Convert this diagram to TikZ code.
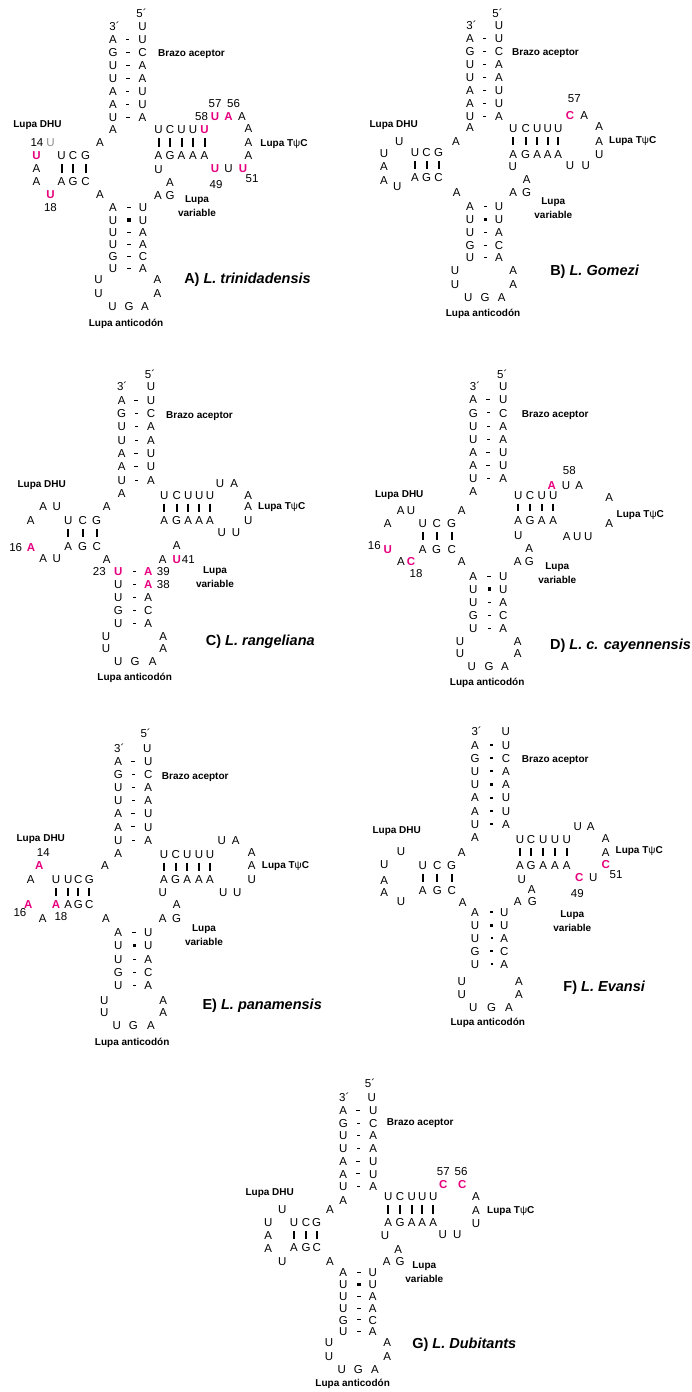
\documentclass[tikz,border=0pt]{standalone}
\usepackage{fontspec}
\setmainfont{Liberation Sans}
\usepackage{tikz}
\definecolor{hilite}{RGB}{230,0,126}

\begin{document}
\begin{tikzpicture}[x=1pt, y=-1pt,
	nt/.style={inner sep=0pt, text height=8.2pt, text depth=0pt, font=\fontsize{11.5}{13}\selectfont},
	hl/.style={nt, text=hilite, font=\fontsize{11.5}{13}\selectfont\bfseries},
	gr/.style={nt, text=black!45},
	lbl/.style={inner sep=0pt, align=center, font=\fontsize{10}{14}\selectfont\bfseries},
	ttl/.style={inner sep=0pt, font=\fontsize{14.5}{17}\selectfont\bfseries},
	pdash/.style={fill, inner sep=0pt, minimum width=3.6pt, minimum height=0.9pt},
	bdash/.style={fill, inner sep=0pt, minimum width=2.8pt, minimum height=2.2pt},
	wobble/.style={fill, inner sep=0pt, minimum size=3.2pt},
	pairbar/.style={line width=2pt, shorten >=4.4pt, shorten <=4.4pt}]

	\useasboundingbox (0,0) rectangle (692,1392);

	%%%%% A) L. trinidadensis
	\begin{scope}[shift={(113,26.7)}]
	%acceptor arm
	\node[nt] (A5) at (28.5,-13) {5´};
	\node[nt] (A3) at (1.5,0) {3´};
	\node[nt] (Ar0) at (29.5,0) {U};
	\foreach \p/\q [count=\k] in {A/U,G/C,U/A,U/A,A/U,A/U,U/A}{
		\node[nt] (Al\k) at (0,12.95*\k) {\p};
		\node[nt] (Ar\k) at (29.5,12.95*\k) {\q};
		\path (Al\k) -- node[pdash] (Ap\k) {} (Ar\k);
	}
	\node[nt] (Al8) at (0,103) {A};
	\node[lbl, anchor=west] (Aacc) at (45,27) {Brazo aceptor};

	%DHU arm
	\node[lbl] (Adhu) at (-75.5,98.5) {Lupa DHU};
	\node[nt] (A14) at (-76,116) {14};
	\node[gr] (Ad1) at (-62.5,116) {U};
	\node[hl] (Ad2) at (-76.5,129) {U};
	\node[nt] (Ad3) at (-76.5,142) {A};
	\node[nt] (Ad4) at (-76.5,154.5) {A};
	\node[hl] (Ad5) at (-62.5,167.5) {U};
	\node[nt] (A18) at (-62.5,180.5) {18};
	\foreach \p/\q/\x [count=\k] in {U/A/-51.5,C/G/-40,G/C/-27.5}{
		\node[nt] (Adt\k) at (\x,129) {\p};
		\node[nt] (Adb\k) at (\x,154.5) {\q};
		\draw[pairbar] (Adt\k) -- (Adb\k);
	}
	\node[nt] (Aj1) at (-13,116) {A};
	\node[nt] (Aj2) at (-13,167.5) {A};

	%anticodon arm
	\foreach \p/\q/\s [count=\k] in {A/U/pdash,U/U/wobble,U/A/pdash,U/A/pdash,G/C/pdash,U/A/pdash}{
		\node[nt] (Acl\k) at (0,168.8+12.2*\k) {\p};
		\node[nt] (Acr\k) at (30,168.8+12.2*\k) {\q};
		\path (Acl\k) -- node[\s, pos=0.55] (Acp\k) {} (Acr\k);
	}
	\node[nt] (Aal1) at (-14.5,252.5) {U};
	\node[nt] (Aal2) at (-14.5,266.5) {U};
	\node[nt] (Aab1) at (-0.5,279.5) {U};
	\node[nt] (Aab2) at (16,279.5) {G};
	\node[nt] (Aab3) at (32,279.5) {A};
	\node[nt] (Aar1) at (44.5,252.5) {A};
	\node[nt] (Aar2) at (44.5,266.5) {A};
	\node[lbl] (Aanti) at (13,297) {Lupa anticodón};

	%variable loop
	\node[nt] (Av1) at (45.5,142.5) {U};
	\node[nt] (Av2) at (57,155.5) {A};
	\node[nt] (Av3) at (45,168.5) {A};
	\node[nt] (Av4) at (57,168.5) {G};
	\node[lbl] (Avar) at (84,179) {Lupa\\variable};

	%TpsiC arm
	\foreach \p/\q/\x [count=\k] in {U/A/45.5,C/G/57,U/A/68.5,U/A/80}{
		\node[nt] (Att\k) at (\x,103) {\p};
		\node[nt] (Atb\k) at (\x,129) {\q};
		\draw[pairbar] (Att\k) -- (Atb\k);
	}
	\node[hl] (Att5) at (91.5,103) {U};
	\node[nt] (Atb5) at (91.5,129) {A};
	\draw[pairbar] (Att5) -- (Atb5);
	\node[nt] (A58) at (88.5,90) {58};
	\node[hl] (Atl1) at (102,90) {U};
	\node[hl] (Atl2) at (115.5,90) {A};
	\node[nt] (Atl3) at (129,90) {A};
	\node[nt] (A57) at (102,77) {57};
	\node[nt] (A56) at (120.5,77) {56};
	\node[nt] (Atl4) at (135.5,101.5) {A};
	\node[nt] (Atl5) at (135.5,116) {A};
	\node[nt] (Atl6) at (135.5,129) {A};
	\node[hl] (Atl7) at (130,142) {U};
	\node[nt] (Atl8) at (115.5,142) {U};
	\node[hl] (Atl9) at (102,142) {U};
	\node[nt] (A51) at (139,152) {51};
	\node[nt] (A49) at (103,157.5) {49};
	\node[lbl] (Atpc) at (171,117) {Lupa T{\mdseries ψ}C};

	\node[ttl] (Attl) at (134.5,253.5) {A) \textit{L. trinidadensis}};
	\end{scope}

	%%%%% B) L. Gomezi
	\begin{scope}[shift={(470,25.7)}]
	%acceptor arm
	\node[nt] (B5) at (27.5,-12.5) {5´};
	\node[nt] (B3) at (1.5,0) {3´};
	\node[nt] (Br0) at (29,0) {U};
	\foreach \p/\q [count=\k] in {A/U,G/C,U/A,U/A,A/U,A/U,U/A}{
		\node[nt] (Bl\k) at (0,12.9*\k) {\p};
		\node[nt] (Br\k) at (29,12.9*\k) {\q};
		\path (Bl\k) -- node[pdash] (Bp\k) {} (Br\k);
	}
	\node[nt] (Bl8) at (0,102) {A};
	\node[lbl, anchor=west] (Bacc) at (42,27.5) {Brazo aceptor};

	%DHU arm
	\node[lbl] (Bdhu) at (-76.3,99.3) {Lupa DHU};
	\node[nt] (Bd1) at (-70.7,115.3) {U};
	\node[nt] (Bd2) at (-86,127.6) {U};
	\node[nt] (Bd3) at (-86,141) {A};
	\node[nt] (Bd4) at (-86,155) {A};
	\node[nt] (Bd5) at (-72.7,160.3) {U};
	\foreach \p/\q/\x [count=\k] in {U/A/-55,C/G/-43.5,G/C/-31.5}{
		\node[nt] (Bdt\k) at (\x,126.6) {\p};
		\node[nt] (Bdb\k) at (\x,151.6) {\q};
		\draw[pairbar] (Bdt\k) -- (Bdb\k);
	}
	\node[nt] (Bj1) at (-14,115.3) {A};
	\node[nt] (Bj2) at (-13.3,167) {A};

	%anticodon arm
	\foreach \p/\q/\s [count=\k] in {A/U/pdash,U/U/wobble,U/A/pdash,G/C/pdash,U/A/pdash}{
		\node[nt] (Bcl\k) at (0,168.25+12.75*\k) {\p};
		\node[nt] (Bcr\k) at (29,168.25+12.75*\k) {\q};
		\path (Bcl\k) -- node[\s, pos=0.55] (Bcp\k) {} (Bcr\k);
	}
	\node[nt] (Bal1) at (-15,245) {U};
	\node[nt] (Bal2) at (-15,258.5) {U};
	\node[nt] (Bab1) at (-1.7,272) {U};
	\node[nt] (Bab2) at (15,272) {G};
	\node[nt] (Bab3) at (31.7,272) {A};
	\node[nt] (Bar1) at (43.3,245) {A};
	\node[nt] (Bar2) at (43.3,258.5) {A};
	\node[lbl] (Banti) at (13,288) {Lupa anticodón};

	%variable loop
	\node[nt] (Bv1) at (42.7,141) {U};
	\node[nt] (Bv2) at (56.7,153.3) {A};
	\node[nt] (Bv3) at (43.3,166.6) {A};
	\node[nt] (Bv4) at (56.7,166.6) {G};
	\node[lbl] (Bvar) at (83.3,182) {Lupa\\variable};

	%TpsiC arm
	\foreach \p/\q/\x [count=\k] in {U/A/43.3,C/G/55.7,U/A/67.3,U/A/77.7,U/A/88.3}{
		\node[nt] (Btt\k) at (\x,102.6) {\p};
		\node[nt] (Btb\k) at (\x,128.3) {\q};
		\draw[pairbar] (Btt\k) -- (Btb\k);
	}
	\node[nt] (B57) at (104.3,72.6) {57};
	\node[hl] (Btl1) at (100,89.3) {C};
	\node[nt] (Btl2) at (114.3,89.3) {A};
	\node[nt] (Btl3) at (129.3,101) {A};
	\node[nt] (Btl4) at (129.3,115.3) {A};
	\node[nt] (Btl5) at (129.3,128.3) {U};
	\node[nt] (Btl6) at (115.7,140) {U};
	\node[nt] (Btl7) at (100,140) {U};
	\node[lbl] (Btpc) at (162.7,115.3) {Lupa T{\mdseries ψ}C};

	\node[ttl] (Bttl) at (124.7,246) {B) \textit{L. Gomezi}};
	\end{scope}

	%%%%% C) L. rangeliana
	\begin{scope}[shift={(121.7,386.7)}]
	%acceptor arm
	\node[nt] (C5) at (28.3,-12.7) {5´};
	\node[nt] (C3) at (0.5,0) {3´};
	\node[nt] (Cr0) at (29.3,0) {U};
	\foreach \p/\q [count=\k] in {A/U,G/C,U/A,U/A,A/U,A/U,U/A}{
		\node[nt] (Cl\k) at (0,13.33*\k) {\p};
		\node[nt] (Cr\k) at (29.3,13.33*\k) {\q};
		\path (Cl\k) -- node[pdash] (Cp\k) {} (Cr\k);
	}
	\node[nt] (Cl8) at (0,106.6) {A};
	\node[lbl, anchor=west] (Cacc) at (44.3,29.3) {Brazo aceptor};

	%DHU arm
	\node[lbl] (Cdhu) at (-80,98.3) {Lupa DHU};
	\node[nt] (Cd1) at (-78.4,120) {A};
	\node[nt] (Cd2) at (-65,120) {U};
	\node[nt] (Cd3) at (-91,133.3) {A};
	\node[nt] (C16) at (-106,160.6) {16};
	\node[hl] (Cd4) at (-90.7,160.6) {A};
	\node[nt] (Cd5) at (-78.4,171.6) {A};
	\node[nt] (Cd6) at (-65,171.6) {U};
	\foreach \p/\q/\x [count=\k] in {U/A/-53.4,C/G/-39,G/C/-25}{
		\node[nt] (Cdt\k) at (\x,134) {\p};
		\node[nt] (Cdb\k) at (\x,159.3) {\q};
		\draw[pairbar] (Cdt\k) -- (Cdb\k);
	}
	\node[nt] (Cj1) at (-15,120) {A};
	\node[nt] (Cj2) at (-15,172.6) {A};

	%anticodon arm
	\foreach \p/\ps/\q/\qs [count=\k] in {U/hl/A/hl,U/nt/A/hl,U/nt/A/nt,G/nt/C/nt,U/nt/A/nt}{
		\node[\ps] (Ccl\k) at (-3.4,172.1+12.9*\k) {\p};
		\node[\qs] (Ccr\k) at (26.6,172.1+12.9*\k) {\q};
		\path (Ccl\k) -- node[pdash, pos=0.55] (Ccp\k) {} (Ccr\k);
	}
	\node[nt] (C23) at (-22.4,185) {23};
	\node[nt] (C39) at (41.6,185) {39};
	\node[nt] (C38) at (41.6,197.9) {38};
	\node[nt] (Cal1) at (-15.7,249.3) {U};
	\node[nt] (Cal2) at (-15.7,261.6) {U};
	\node[nt] (Cab1) at (-3.4,275) {U};
	\node[nt] (Cab2) at (13.3,275) {G};
	\node[nt] (Cab3) at (31,275) {A};
	\node[nt] (Car1) at (41.6,249.3) {A};
	\node[nt] (Car2) at (41.6,261.6) {A};
	\node[lbl] (Canti) at (13,291) {Lupa anticodón};

	%variable loop
	\node[nt] (Cv1) at (55,158.3) {A};
	\node[nt] (Cv2) at (41,172.6) {A};
	\node[hl] (Cv3) at (55,172.6) {U};
	\node[nt] (C41) at (66.6,172.6) {41};
	\node[lbl] (Cvar) at (93.3,190) {Lupa\\variable};

	%TpsiC arm
	\foreach \p/\q/\x [count=\k] in {U/A/42.6,C/G/55,U/A/66.6,U/A/77.6,U/A/88.3}{
		\node[nt] (Ctt\k) at (\x,108.3) {\p};
		\node[nt] (Ctb\k) at (\x,134) {\q};
		\draw[pairbar] (Ctt\k) -- (Ctb\k);
	}
	\node[nt] (Ctl1) at (98.3,96.6) {U};
	\node[nt] (Ctl2) at (112.6,96.6) {A};
	\node[nt] (Ctl3) at (126.6,108.3) {A};
	\node[nt] (Ctl4) at (126.6,120) {A};
	\node[nt] (Ctl5) at (126.6,134) {U};
	\node[nt] (Ctl6) at (114.3,146) {U};
	\node[nt] (Ctl7) at (100,146) {U};
	\node[lbl] (Ctpc) at (160,120) {Lupa T{\mdseries ψ}C};

	\node[ttl] (Cttl) at (138.6,255) {C) \textit{L. rangeliana}};
	\end{scope}

	%%%%% D) L. c. cayennensis
	\begin{scope}[shift={(473.3,386.7)}]
	%acceptor arm
	\node[nt] (D5) at (29,-12.7) {5´};
	\node[nt] (D3) at (1.7,0) {3´};
	\node[nt] (Dr0) at (30,0) {U};
	\foreach \p/\q [count=\k] in {A/U,G/C,U/A,U/A,A/U,A/U,U/A}{
		\node[nt] (Dl\k) at (0,13.1*\k) {\p};
		\node[nt] (Dr\k) at (30,13.1*\k) {\q};
		\path (Dl\k) -- node[pdash] (Dp\k) {} (Dr\k);
	}
	\node[nt] (Dl8) at (0,105) {A};
	\node[lbl, anchor=west] (Dacc) at (48.4,28.3) {Brazo aceptor};

	%DHU arm
	\node[lbl] (Ddhu) at (-74,108.3) {Lupa DHU};
	\node[nt] (Dd1) at (-72.6,124) {A};
	\node[nt] (Dd2) at (-62.3,124) {U};
	\node[nt] (Dd3) at (-85.6,136.6) {A};
	\node[nt] (D16) at (-99,159) {16};
	\node[hl] (Dd4) at (-85.6,162.3) {U};
	\node[nt] (Dd5) at (-72.3,174.3) {A};
	\node[hl] (Dd6) at (-62.3,174.3) {C};
	\node[nt] (D18) at (-57.3,186.6) {18};
	\foreach \p/\q/\x [count=\k] in {U/A/-50.6,C/G/-36.6,G/C/-21.6}{
		\node[nt] (Ddt\k) at (\x,136.6) {\p};
		\node[nt] (Ddb\k) at (\x,162.3) {\q};
		\draw[pairbar] (Ddt\k) -- (Ddb\k);
	}
	\node[nt] (Dj1) at (-11.6,124) {A};
	\node[nt] (Dj2) at (-11.6,174.3) {A};

	%anticodon arm
	\foreach \p/\q/\s [count=\k] in {A/U/pdash,U/U/wobble,U/A/pdash,G/C/pdash,U/A/pdash}{
		\node[nt] (Dcl\k) at (0,176.23+13.07*\k) {\p};
		\node[nt] (Dcr\k) at (30,176.23+13.07*\k) {\q};
		\path (Dcl\k) -- node[\s, pos=0.55] (Dcp\k) {} (Dcr\k);
	}
	\node[nt] (Dal1) at (-13.3,254.3) {U};
	\node[nt] (Dal2) at (-13.3,266.6) {U};
	\node[nt] (Dab1) at (-1.6,280) {U};
	\node[nt] (Dab2) at (15.7,280) {G};
	\node[nt] (Dab3) at (31.7,280) {A};
	\node[nt] (Dar1) at (44.4,254.3) {A};
	\node[nt] (Dar2) at (44.4,266.6) {A};
	\node[lbl] (Danti) at (13.9,296) {Lupa anticodón};

	%variable loop
	\node[nt] (Dv1) at (45,148.3) {U};
	\node[nt] (Dv2) at (56,161.6) {A};
	\node[nt] (Dv3) at (44.4,174.3) {A};
	\node[nt] (Dv4) at (56,174.3) {G};
	\node[lbl] (Dvar) at (84,186.5) {Lupa\\variable};

	%TpsiC arm
	\foreach \p/\q/\x [count=\k] in {U/A/45,C/G/56.7,U/A/68.4,U/A/80}{
		\node[nt] (Dtt\k) at (\x,108.3) {\p};
		\node[nt] (Dtb\k) at (\x,133.3) {\q};
		\draw[pairbar] (Dtt\k) -- (Dtb\k);
	}
	\node[nt] (D58) at (96,84) {58};
	\node[hl] (Dtl1) at (78.4,98.3) {A};
	\node[nt] (Dtl2) at (92.7,98.3) {U};
	\node[nt] (Dtl3) at (106,98.3) {A};
	\node[nt] (Dtl4) at (136,110.6) {A};
	\node[nt] (Dtl5) at (136,136.6) {A};
	\node[nt] (Dtl6) at (115,149.3) {U};
	\node[nt] (Dtl7) at (104,149.3) {U};
	\node[nt] (Dtl8) at (93.4,149.3) {A};
	\node[lbl] (Dtpc) at (167,128.3) {Lupa T{\mdseries ψ}C};

	\node[ttl] (Dttl) at (147.2,259.3) {D) \textit{L. c. cayennensis}};
	\end{scope}

	%%%%% E) L. panamensis
	\begin{scope}[shift={(118.3,748.3)}]
	%acceptor arm
	\node[nt] (E5) at (27.4,-15) {5´};
	\node[nt] (E3) at (1,0) {3´};
	\node[nt] (Er0) at (29,0) {U};
	\foreach \p/\q [count=\k] in {A/U,G/C,U/A,U/A,A/U,A/U,U/A}{
		\node[nt] (El\k) at (0,13.1*\k) {\p};
		\node[nt] (Er\k) at (30,13.1*\k) {\q};
		\path (El\k) -- node[pdash] (Ep\k) {} (Er\k);
	}
	\node[nt] (El8) at (0,105) {A};
	\node[lbl, anchor=west] (Eacc) at (43.4,29) {Brazo aceptor};

	%DHU arm
	\node[lbl] (Edhu) at (-77.5,91) {Lupa DHU};
	\node[nt] (E14) at (-75,104.4) {14};
	\node[hl] (Ed1) at (-79,117.4) {A};
	\node[nt] (Ed2) at (-87.6,131) {A};
	\node[hl] (Ed3) at (-90,156) {A};
	\node[nt] (E16) at (-98.3,164.4) {16};
	\node[nt] (Ed4) at (-75.6,170) {A};
	\node[nt] (E18) at (-57.3,168.4) {18};
	\foreach \p/\q/\qs/\x [count=\k] in {U/A/hl/-62.3,U/A/nt/-50,C/G/nt/-40,G/C/nt/-29}{
		\node[nt] (Edt\k) at (\x,131) {\p};
		\node[\qs] (Edb\k) at (\x,156) {\q};
		\draw[pairbar] (Edt\k) -- (Edb\k);
	}
	\node[nt] (Ej1) at (-13.3,117.4) {A};
	\node[nt] (Ej2) at (-12.3,170) {A};

	%anticodon arm
	\foreach \p/\q/\s [count=\k] in {A/U/pdash,U/U/wobble,U/A/pdash,G/C/pdash,U/A/pdash}{
		\node[nt] (Ecl\k) at (0,170.65+13.35*\k) {\p};
		\node[nt] (Ecr\k) at (30,170.65+13.35*\k) {\q};
		\path (Ecl\k) -- node[\s, pos=0.55] (Ecp\k) {} (Ecr\k);
	}
	\node[nt] (Eal1) at (-14,251.7) {U};
	\node[nt] (Eal2) at (-14,264) {U};
	\node[nt] (Eab1) at (-1.6,276.7) {U};
	\node[nt] (Eab2) at (15,276.7) {G};
	\node[nt] (Eab3) at (32.7,276.7) {A};
	\node[nt] (Ear1) at (45,251.7) {A};
	\node[nt] (Ear2) at (45,264) {A};
	\node[lbl] (Eanti) at (13.9,295) {Lupa anticodón};

	%variable loop
	\node[nt] (Ev1) at (44.4,144.4) {U};
	\node[nt] (Ev2) at (58.4,155.7) {A};
	\node[nt] (Ev3) at (44.4,170) {A};
	\node[nt] (Ev4) at (58.4,170) {G};
	\node[lbl] (Evar) at (85.7,186.5) {Lupa\\variable};

	%TpsiC arm
	\foreach \p/\q/\x [count=\k] in {U/A/45.7,C/G/57.4,U/A/69,U/A/80.7,U/A/91.7}{
		\node[nt] (Ett\k) at (\x,105.7) {\p};
		\node[nt] (Etb\k) at (\x,131) {\q};
		\draw[pairbar] (Ett\k) -- (Etb\k);
	}
	\node[nt] (Etl1) at (103.4,91.7) {U};
	\node[nt] (Etl2) at (117.4,91.7) {A};
	\node[nt] (Etl3) at (133.4,104.4) {A};
	\node[nt] (Etl4) at (133.4,117.4) {A};
	\node[nt] (Etl5) at (133.4,131) {U};
	\node[nt] (Etl6) at (119,144.4) {U};
	\node[nt] (Etl7) at (105,144.4) {U};
	\node[lbl] (Etpc) at (167.2,117.4) {Lupa T{\mdseries ψ}C};

	\node[ttl] (Ettl) at (143.9,257.7) {E) \textit{L. panamensis}};
	\end{scope}

	%%%%% F) L. Evansi
	\begin{scope}[shift={(475,731.7)}]
	%acceptor arm
	\node[nt] (F3) at (1.7,0) {3´};
	\node[nt] (Fr0) at (30.7,0) {U};
	\foreach \p/\q [count=\k] in {A/U,G/C,U/A,U/A,A/U,A/U,U/A}{
		\node[nt] (Fl\k) at (0,13.2*\k) {\p};
		\node[nt] (Fr\k) at (31,13.2*\k) {\q};
		\path (Fl\k) -- node[bdash, pos=0.55] (Fp\k) {} (Fr\k);
	}
	\node[nt] (Fl8) at (0,105.6) {A};
	\node[lbl, anchor=west] (Facc) at (46.7,28.3) {Brazo aceptor};

	%DHU arm
	\node[lbl] (Fdhu) at (-78.3,99.3) {Lupa DHU};
	\node[nt] (Fd1) at (-74,120) {U};
	\node[nt] (Fd2) at (-90.7,132.6) {U};
	\node[nt] (Fd3) at (-90.7,148.3) {A};
	\node[nt] (Fd4) at (-90.7,160.6) {A};
	\node[nt] (Fd5) at (-74,169.3) {U};
	\foreach \p/\q/\x [count=\k] in {U/A/-52.3,C/G/-37.7,G/C/-23.3}{
		\node[nt] (Fdt\k) at (\x,133.3) {\p};
		\node[nt] (Fdb\k) at (\x,159) {\q};
		\draw[pairbar] (Fdt\k) -- (Fdb\k);
	}
	\node[nt] (Fj1) at (-13.3,121) {A};
	\node[nt] (Fj2) at (-12.3,171) {A};

	%anticodon arm
	\foreach \p/\q/\s [count=\k] in {A/U/bdash,U/U/wobble,U/A/bdash,G/C/bdash,U/A/bdash}{
		\node[nt] (Fcl\k) at (0,167.6+13*\k) {\p};
		\node[nt] (Fcr\k) at (29.3,167.6+13*\k) {\q};
		\path (Fcl\k) -- node[\s, pos=0.6] (Fcp\k) {} (Fcr\k);
	}
	\node[nt] (Fal1) at (-13.3,250) {U};
	\node[nt] (Fal2) at (-13.3,262.3) {U};
	\node[nt] (Fab1) at (-1.7,275.6) {U};
	\node[nt] (Fab2) at (16.7,275.6) {G};
	\node[nt] (Fab3) at (34,275.6) {A};
	\node[nt] (Far1) at (44,250) {A};
	\node[nt] (Far2) at (44,262.3) {A};
	\node[lbl] (Fanti) at (12.8,291.6) {Lupa anticodón};

	%variable loop
	\node[nt] (Fv1) at (46.7,147.3) {U};
	\node[nt] (Fv2) at (56.7,157.6) {A};
	\node[nt] (Fv3) at (42.7,170) {A};
	\node[nt] (Fv4) at (57.3,170) {G};
	\node[lbl] (Fvar) at (97.3,189) {Lupa\\variable};

	%TpsiC arm
	\foreach \p/\q/\x [count=\k] in {U/A/45,C/G/56,U/A/68.3,U/A/80,U/A/91.7}{
		\node[nt] (Ftt\k) at (\x,107.6) {\p};
		\node[nt] (Ftb\k) at (\x,133.3) {\q};
		\draw[pairbar] (Ftt\k) -- (Ftb\k);
	}
	\node[nt] (Ftl1) at (102.7,95) {U};
	\node[nt] (Ftl2) at (115.7,95) {A};
	\node[nt] (Ftl3) at (130.7,106.6) {A};
	\node[nt] (Ftl4) at (130.7,120.6) {A};
	\node[hl] (Ftl5) at (130.7,132.6) {C};
	\node[nt] (F51) at (141,142.3) {51};
	\node[nt] (Ftl6) at (118.3,146) {U};
	\node[hl] (Ftl7) at (104.3,146) {C};
	\node[nt] (F49) at (102.3,161.6) {49};
	\node[lbl] (Ftpc) at (164.2,119) {Lupa T{\mdseries ψ}C};

	\node[ttl] (Fttl) at (129.3,255.6) {F) \textit{L. Evansi}};
	\end{scope}

	%%%%% G) L. Dubitants
	\begin{scope}[shift={(343.3,1097.7)}]
	%acceptor arm
	\node[nt] (G5) at (26.7,-14.4) {5´};
	\node[nt] (G3) at (1,0) {3´};
	\node[nt] (Gr0) at (28.4,0) {U};
	\foreach \p/\q [count=\k] in {A/U,G/C,U/A,U/A,A/U,A/U,U/A}{
		\node[nt] (Gl\k) at (0,12.7*\k) {\p};
		\node[nt] (Gr\k) at (30,12.7*\k) {\q};
		\path (Gl\k) -- node[pdash] (Gp\k) {} (Gr\k);
	}
	\node[nt] (Gl8) at (0,103) {A};
	\node[lbl, anchor=west] (Gacc) at (43.4,25.6) {Brazo aceptor};

	%DHU arm
	\node[lbl] (Gdhu) at (-73.6,95) {Lupa DHU};
	\node[nt] (Gd1) at (-61,111.6) {U};
	\node[nt] (Gd2) at (-75,125) {U};
	\node[nt] (Gd3) at (-75,137.3) {A};
	\node[nt] (Gd4) at (-75,150.6) {A};
	\node[nt] (Gd5) at (-61,163.3) {U};
	\foreach \p/\q/\x [count=\k] in {U/A/-49.3,C/G/-37.3,G/C/-26.6}{
		\node[nt] (Gdt\k) at (\x,125) {\p};
		\node[nt] (Gdb\k) at (\x,150) {\q};
		\draw[pairbar] (Gdt\k) -- (Gdb\k);
	}
	\node[nt] (Gj1) at (-13.3,111.6) {A};
	\node[nt] (Gj2) at (-13.3,163.3) {A};

	%anticodon arm
	\foreach \p/\q/\s [count=\k] in {A/U/pdash,U/U/wobble,U/A/pdash,U/A/pdash,G/C/pdash,U/A/pdash}{
		\node[nt] (Gcl\k) at (0,163.2+11.8*\k) {\p};
		\node[nt] (Gcr\k) at (29.4,163.2+11.8*\k) {\q};
		\path (Gcl\k) -- node[\s, pos=0.55] (Gcp\k) {} (Gcr\k);
	}
	\node[nt] (Gal1) at (-14.3,245) {U};
	\node[nt] (Gal2) at (-14.3,258.3) {U};
	\node[nt] (Gab1) at (-1.6,271.6) {U};
	\node[nt] (Gab2) at (15,271.6) {G};
	\node[nt] (Gab3) at (31.7,271.6) {A};
	\node[nt] (Gar1) at (44,245) {A};
	\node[nt] (Gar2) at (44,258.3) {A};
	\node[lbl] (Ganti) at (9.4,286.6) {Lupa anticodón};

	%variable loop
	\node[nt] (Gv1) at (41.7,137.3) {U};
	\node[nt] (Gv2) at (55,151.6) {A};
	\node[nt] (Gv3) at (43.4,164) {A};
	\node[nt] (Gv4) at (56.7,164) {G};
	\node[lbl] (Gvar) at (81,174.5) {Lupa\\variable};

	%TpsiC arm
	\foreach \p/\q/\x [count=\k] in {U/A/45,C/G/56.7,U/A/68.4,U/A/79,U/A/90}{
		\node[nt] (Gtt\k) at (\x,99) {\p};
		\node[nt] (Gtb\k) at (\x,125) {\q};
		\draw[pairbar] (Gtt\k) -- (Gtb\k);
	}
	\node[nt] (G57) at (100,73.3) {57};
	\node[nt] (G56) at (117.7,73.3) {56};
	\node[hl] (Gtl1) at (100,86.6) {C};
	\node[hl] (Gtl2) at (119,86.6) {C};
	\node[nt] (Gtl3) at (132.7,98.3) {A};
	\node[nt] (Gtl4) at (132.7,112.3) {A};
	\node[nt] (Gtl5) at (132.7,125.6) {U};
	\node[nt] (Gtl6) at (114,136.6) {U};
	\node[nt] (Gtl7) at (99.4,136.6) {U};
	\node[lbl] (Gtpc) at (167.5,113.3) {Lupa T{\mdseries ψ}C};

	\node[ttl] (Gttl) at (121,246.6) {G) \textit{L. Dubitants}};
	\end{scope}

\end{tikzpicture}
\end{document}
